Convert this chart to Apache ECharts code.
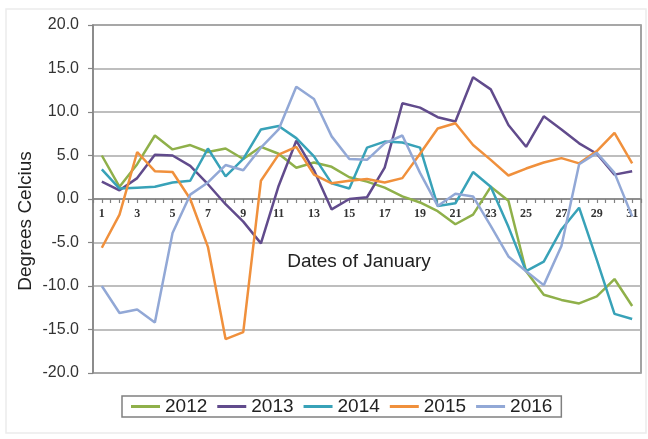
<!DOCTYPE html>
<html>
<head>
<meta charset="utf-8">
<script src="https://cdn.jsdelivr.net/npm/echarts@6/dist/echarts.min.js"></script>
<style>
html,body{margin:0;padding:0;background:#fff;}
#chart{width:648px;height:439px;}
</style>
</head>
<body>
<div id="chart"></div>
<script>
const days = [1,2,3,4,5,6,7,8,9,10,11,12,13,14,15,16,17,18,19,20,21,22,23,24,25,26,27,28,29,30,31];
const seriesNames = ['2012','2013','2014','2015','2016'];
const y2012 = [5.0, 1.4, 4.0, 7.3, 5.7, 6.2, 5.4, 5.8, 4.6, 6.0, 5.2, 3.6, 4.2, 3.7, 2.5, 2.0, 1.3, 0.3, -0.4, -1.4, -2.9, -1.8, 1.4, -0.2, -8.3, -11.0, -11.6, -12.0, -11.2, -9.2, -12.3];
const y2013 = [2.0, 1.0, 2.4, 5.1, 5.0, 3.8, 1.7, -0.6, -2.6, -5.1, 1.5, 6.7, 3.3, -1.2, 0.0, 0.2, 3.6, 11.0, 10.5, 9.4, 8.9, 14.0, 12.6, 8.5, 6.0, 9.5, 8.0, 6.4, 5.2, 2.8, 3.2];
const y2014 = [3.4, 1.2, 1.3, 1.4, 1.9, 2.1, 5.8, 2.6, 4.6, 8.0, 8.4, 7.0, 4.9, 1.8, 1.2, 5.9, 6.6, 6.5, 5.9, -0.8, -0.5, 3.1, 1.4, -3.2, -8.3, -7.2, -3.5, -1.0, -7.0, -13.2, -13.8];
const y2015 = [-5.6, -1.8, 5.4, 3.2, 3.1, 0.0, -5.5, -16.1, -15.3, 2.1, 5.1, 6.0, 2.8, 1.8, 2.1, 2.3, 1.9, 2.4, 5.2, 8.1, 8.7, 6.2, 4.5, 2.7, 3.5, 4.2, 4.7, 4.1, 5.5, 7.6, 4.1];
const y2016 = [-10.0, -13.1, -12.7, -14.2, -3.9, 0.5, 1.9, 3.9, 3.3, 5.9, 8.0, 12.9, 11.5, 7.2, 4.6, 4.5, 6.4, 7.3, 3.0, -0.8, 0.6, 0.3, -3.1, -6.6, -8.3, -9.9, -5.4, 4.0, 5.3, 3.0, -2.0];
const colors = ['#8fb04a', '#614b8c', '#38a2b8', '#f0903c', '#92a8d6'];
const allValues = [y2012, y2013, y2014, y2015, y2016];

const chart = echarts.init(document.getElementById('chart'));
const series = seriesNames.map((name, i) => ({
  name: name,
  type: 'line',
  symbol: 'none',
  data: days.map((d, j) => [d, allValues[i][j]]),
  lineStyle: { width: 2.5, color: colors[i] },
  itemStyle: { color: colors[i] }
}));

// grid: top 25, bottom 66 -> plot height 348; y=0 lies mid-height
const gridTop = 25, gridBottom = 66, plotH = 439 - gridTop - gridBottom;

chart.setOption({
  animation: false,
  backgroundColor: '#fff',
  graphic: [{
    type: 'rect', shape: { x: 6, y: 9, width: 640, height: 424 }, silent: true,
    style: { fill: 'none', stroke: '#ececec', lineWidth: 1.5 }
  }],
  grid: {
    left: 93, right: 7, top: gridTop, bottom: gridBottom,
    show: true, borderColor: '#858585', borderWidth: 1.5, containLabel: false
  },
  xAxis: {
    type: 'value',
    position: 'bottom',
    offset: -plotH / 2,
    min: 0.5, max: 31.5, interval: 0.5,
    name: 'Dates of January',
    nameLocation: 'middle',
    nameGap: 53,
    nameMoveOverlap: false,
    nameTextStyle: { fontFamily: 'Liberation Sans', fontSize: 19, color: '#222', padding: [0, 16, 0, 0] },
    axisLine: { onZero: false, lineStyle: { color: '#808080', width: 1.5 } },
    axisTick: { show: true, length: 4, lineStyle: { color: '#808080', width: 1.2 } },
    splitLine: { show: false },
    axisLabel: {
      margin: 9,
      fontFamily: 'Liberation Serif', fontWeight: 'bold', fontSize: 12, color: '#333',
      formatter: v => (Number.isInteger(v) && v % 2 === 1) ? String(v) : ''
    }
  },
  yAxis: {
    type: 'value',
    min: -20, max: 20, interval: 5,
    name: 'Degrees Celcius',
    nameLocation: 'middle',
    nameGap: 58,
    nameMoveOverlap: false,
    nameTextStyle: { fontFamily: 'Liberation Sans', fontSize: 19, color: '#222', padding: [0, 44, 0, 0] },
    axisLine: { show: true, onZero: false, lineStyle: { color: '#858585', width: 1.5 } },
    axisTick: { show: true, length: 5, lineStyle: { color: '#858585', width: 1.2 } },
    splitLine: { show: true, lineStyle: { color: '#a8a8a8', width: 1.5 } },
    axisLabel: {
      margin: 14,
      fontFamily: 'Liberation Sans', fontSize: 16, color: '#333',
      formatter: v => v.toFixed(1)
    }
  },
  legend: {
    data: seriesNames,
    left: 122, top: 396,
    padding: [1, 9, 1, 9],
    itemGap: 10,
    icon: 'rect',
    itemWidth: 29, itemHeight: 3,
    borderColor: '#808080', borderWidth: 1.5, borderRadius: 0,
    textStyle: { fontFamily: 'Liberation Sans', fontSize: 19, color: '#222' }
  },
  series: series
});
</script>
</body>
</html>
